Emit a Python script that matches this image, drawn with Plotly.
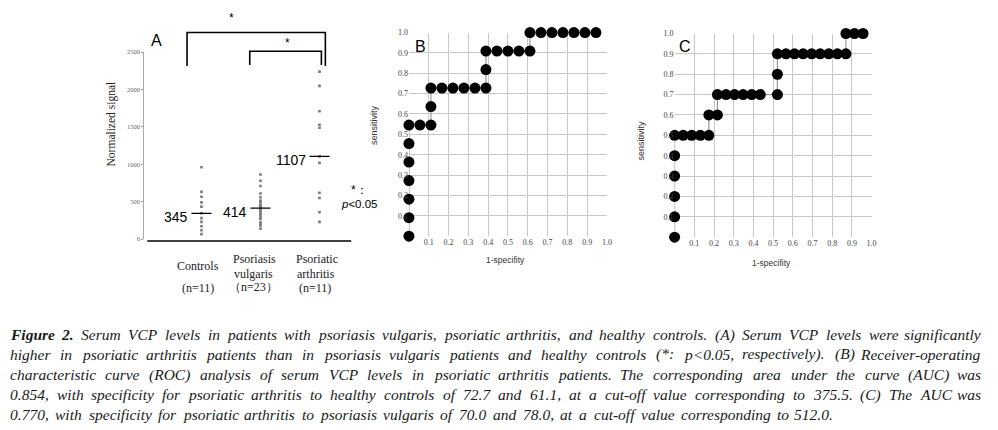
import plotly.graph_objects as go

W, H = 998, 430

# ---------------- data ----------------
groups = ["Controls", "Psoriasis vulgaris", "Psoriatic arthritis"]
controls = [961, 632, 566, 491, 434, 345, 280, 230, 171, 118, 66]
psoriasis_vulgaris = [865, 780, 710, 610, 560, 515, 490, 460, 440, 430, 420, 414,
                      400, 390, 360, 340, 316, 290, 272, 228, 200, 184, 140]
psoriatic_arthritis = [2240, 2050, 1710, 1530, 1490, 1107, 1020, 620, 550, 360, 230]
medians = [345, 414, 1107]
a_yticks = [0, 500, 1000, 1500, 2000, 2500]

roc_b_fpr = [0, 0, 0, 0, 0, 0, 0, 1/18, 2/18, 2/18, 2/18, 3/18, 4/18, 5/18, 6/18, 7/18, 7/18, 7/18,
             8/18, 9/18, 10/18, 11/18, 11/18, 12/18, 13/18, 14/18, 15/18, 16/18, 17/18]
roc_b_tpr = [0, 1/11, 2/11, 3/11, 4/11, 5/11, 6/11, 6/11, 6/11, 7/11, 8/11, 8/11, 8/11, 8/11, 8/11, 8/11,
             9/11, 10/11, 10/11, 10/11, 10/11, 10/11, 1, 1, 1, 1, 1, 1, 1]

roc_c_fpr = [0, 0, 0, 0, 0, 0, 1/23, 2/23, 3/23, 4/23, 4/23, 5/23, 5/23, 6/23, 7/23, 8/23, 9/23, 10/23,
             12/23, 12/23, 12/23, 13/23, 14/23, 15/23, 16/23, 17/23, 18/23, 19/23, 20/23, 20/23, 21/23, 22/23]
roc_c_tpr = [0, 0.1, 0.2, 0.3, 0.4, 0.5, 0.5, 0.5, 0.5, 0.5, 0.6, 0.6, 0.7, 0.7, 0.7, 0.7, 0.7, 0.7,
             0.7, 0.8, 0.9, 0.9, 0.9, 0.9, 0.9, 0.9, 0.9, 0.9, 0.9, 1.0, 1.0, 1.0]

roc_ticks = [0.1, 0.2, 0.3, 0.4, 0.5, 0.6, 0.7, 0.8, 0.9, 1.0]

caption_lines = [
    "Figure 2. Serum VCP levels in patients with psoriasis vulgaris, psoriatic arthritis, and healthy controls. (A) Serum VCP levels were significantly",
    "higher in psoriatic arthritis patients than in psoriasis vulgaris patients and healthy controls (*: p<0.05, respectively). (B) Receiver-operating",
    "characteristic curve (ROC) analysis of serum VCP levels in psoriatic arthritis patients. The corresponding area under the curve (AUC) was",
    "0.854, with specificity for psoriatic arthritis to healthy controls of 72.7 and 61.1, at a cut-off value corresponding to 375.5. (C) The AUC was",
    "0.770, with specificity for psoriatic arthritis to psoriasis vulgaris of 70.0 and 78.0, at a cut-off value corresponding to 512.0.",
]

# ---------------- helpers ----------------
def px(p):
    return p / W


def py(p):
    return 1 - p / H


SERIF = "Liberation Serif, Times New Roman, serif"
SANS = "Liberation Sans, Arial, sans-serif"

fig = go.Figure()

# Panel A dots
cat_x = []
vals = []
for i, arr in enumerate([controls, psoriasis_vulgaris, psoriatic_arthritis]):
    cat_x += [i] * len(arr)
    vals += arr
fig.add_trace(go.Scatter(x=cat_x, y=vals, mode="markers", xaxis="x", yaxis="y",
                         marker=dict(symbol="square", size=2.6, color="#7a7a7a", line=dict(width=0)),
                         showlegend=False, hoverinfo="skip"))

# ROC B
fig.add_trace(go.Scatter(x=roc_b_fpr, y=roc_b_tpr, mode="lines+markers", xaxis="x2", yaxis="y2",
                         line=dict(color="#9a9a9a", width=1.2),
                         marker=dict(size=11, color="black"), showlegend=False, cliponaxis=False))
# ROC C
fig.add_trace(go.Scatter(x=roc_c_fpr, y=roc_c_tpr, mode="lines+markers", xaxis="x3", yaxis="y3",
                         line=dict(color="#9a9a9a", width=1.2),
                         marker=dict(size=11, color="black"), showlegend=False, cliponaxis=False))

shapes = []
annotations = []

# median lines
for i, m in enumerate(medians):
    shapes.append(dict(type="line", xref="x", yref="y", x0=i - 0.17, x1=i + 0.17, y0=m, y1=m,
                       line=dict(color="black", width=1.3)))
    annotations.append(dict(xref="x", yref="y", x=i - 0.2, y=m, text=str(m), showarrow=False,
                            xanchor="right", yanchor="middle", yshift=-4,
                            font=dict(family=SANS, size=14, color="black")))

# A: bottom axis line
shapes.append(dict(type="line", xref="paper", yref="paper", x0=px(148), x1=px(353), y0=py(241), y1=py(241),
                   line=dict(color="black", width=1.5)))
# brackets
for (xl, xr, yt, yb) in [(188, 327, 29, 63), (251, 323, 48, 62)]:
    shapes.append(dict(type="path", xref="paper", yref="paper",
                       path=f"M {px(xl)},{py(yb)} L {px(xl)},{py(yt)} L {px(xr)},{py(yt)} L {px(xr)},{py(yb)}",
                       line=dict(color="black", width=1.6)))

def ann(x, y, text, size, family=SANS, color="black", xanchor="center", yanchor="middle", angle=0):
    annotations.append(dict(xref="paper", yref="paper", x=px(x), y=py(y), text=text, showarrow=False,
                            xanchor=xanchor, yanchor=yanchor, textangle=angle,
                            font=dict(family=family, size=size, color=color)))

ann(233, 14, "*", 12)
ann(289, 40, "*", 12)
ann(157, 37, "A", 16)
ann(423, 43, "B", 16)
ann(688, 43, "C", 16)
ann(351, 189, "*：", 12, xanchor="left")
ann(341, 203, "<i>p</i>&lt;0.05", 11.5, xanchor="left")
ann(112, 122, "Normalized signal", 11.5, family=SERIF, color="#222", angle=-90)

# category labels
cat_pos = [(199, 266, "Controls"), (199, 289, "(n=11)"),
           (256, 259, "Psoriasis"), (255, 274, "vulgaris"), (255, 288, "（n=23）"),
           (319, 259, "Psoriatic"), (318, 274, "arthritis"), (317, 289, "(n=11)")]
for x, y, t in cat_pos:
    ann(x, y, t, 12, family=SERIF, color="#222")

# ROC titles
ann(508, 260, "1-specifity", 8.5, color="#333")
ann(775, 263, "1-specifity", 8.5, color="#333")
ann(376, 123, "sensitivity", 9, color="#333", angle=-90)
ann(644, 139, "sensitivity", 9, color="#333", angle=-90)

# ---------------- caption (justified) ----------------
TI = {' ': 250, '!': 333, '(': 333, ')': 333, '*': 500, ',': 250, '-': 333, '.': 250, ':': 333, '<': 675,
      'A': 611, 'B': 611, 'C': 667, 'D': 722, 'E': 611, 'F': 611, 'G': 722, 'H': 722, 'I': 333, 'J': 444,
      'K': 667, 'L': 556, 'M': 833, 'N': 667, 'O': 722, 'P': 611, 'Q': 722, 'R': 611, 'S': 500, 'T': 556,
      'U': 722, 'V': 611, 'W': 833, 'X': 611, 'Y': 556, 'Z': 556,
      'a': 500, 'b': 500, 'c': 444, 'd': 500, 'e': 444, 'f': 278, 'g': 500, 'h': 500, 'i': 278, 'j': 278,
      'k': 444, 'l': 278, 'm': 722, 'n': 500, 'o': 500, 'p': 500, 'q': 500, 'r': 389, 's': 389, 't': 278,
      'u': 500, 'v': 444, 'w': 667, 'x': 444, 'y': 444, 'z': 389}
TBI = dict(TI)
TBI.update({'F': 667, 'u': 556, 'g': 500, 'e': 444, 'r': 389})

CAP_SIZE = 15.5
line_y = [336, 356, 377, 397, 417]
line_right = [987, 987, 987, 987, 838]
CAP_LEFT = 9

for li, line in enumerate(caption_lines):
    words = line.split(" ")
    bold = [li == 0 and wi < 2 for wi in range(len(words))]
    widths = []
    for w, b in zip(words, bold):
        tab = TBI if b else TI
        widths.append(sum(tab.get(ch, 500) for ch in w) * CAP_SIZE / 1000.0)
    total = sum(widths)
    gap = (line_right[li] - CAP_LEFT - total) / (len(words) - 1)
    x = CAP_LEFT
    n = len(words)
    for wi, (w, b, wd) in enumerate(zip(words, bold, widths)):
        t = w.replace("<", "&lt;")
        t = f"<b><i>{t}</i></b>" if b else f"<i>{t}</i>"
        last = wi == n - 1
        annotations.append(dict(xref="paper", yref="paper",
                                x=px(line_right[li] if last else x), y=py(line_y[li]), text=t,
                                showarrow=False, xanchor="right" if last else "left", yanchor="middle",
                                borderpad=0,
                                font=dict(family=SERIF, size=CAP_SIZE, color="#1a1a1a")))
        x += wd + gap

# ---------------- axes ----------------
cx0, cdx = 202.5, 59.3
a_xrange = [(145 - cx0) / cdx, (353 - cx0) / cdx]

roc_axis_common = dict(showgrid=True, gridcolor="#c8c8c8", gridwidth=1, zeroline=False, showline=False,
                       tickfont=dict(family=SERIF, size=8, color="#444"), ticks="", fixedrange=True)

fig.update_layout(
    width=W, height=H, margin=dict(l=0, r=0, t=0, b=0),
    paper_bgcolor="white", plot_bgcolor="rgba(0,0,0,0)",
    xaxis=dict(domain=[px(145), px(353)], range=a_xrange, showgrid=False, zeroline=False,
               showticklabels=False, showline=False, anchor="y"),
    yaxis=dict(domain=[py(239), py(49)], range=[0, 2500], tickvals=a_yticks, showgrid=False, zeroline=False,
               showline=True, linecolor="#aaaaaa", linewidth=1, ticks="outside", ticklen=2, tickcolor="#999",
               tickfont=dict(family=SERIF, size=6.5, color="#666"), anchor="x"),
    xaxis2=dict(domain=[px(411), px(610)], range=[0, 1], tickvals=[0] + roc_ticks,
                ticktext=[""] + [f"{v:.1f}" for v in roc_ticks], anchor="y2", **roc_axis_common),
    yaxis2=dict(domain=[py(236), py(29)], range=[0, 1], tickvals=roc_ticks,
                ticktext=[f"{v:.1f}" for v in roc_ticks], anchor="x2", **roc_axis_common),
    xaxis3=dict(domain=[px(678), px(876)], range=[0, 1], tickvals=[0] + roc_ticks,
                ticktext=[""] + [f"{v:.1f}" for v in roc_ticks], anchor="y3", **roc_axis_common),
    yaxis3=dict(domain=[py(237), py(30)], range=[0, 1], tickvals=roc_ticks,
                ticktext=[f"{v:.1f}" for v in roc_ticks], anchor="x3", **roc_axis_common),
    shapes=shapes, annotations=annotations,
)

fig.write_html("out.html", config={"displayModeBar": False},
               post_script="document.body.style.margin='0';document.body.style.overflow='hidden';")
